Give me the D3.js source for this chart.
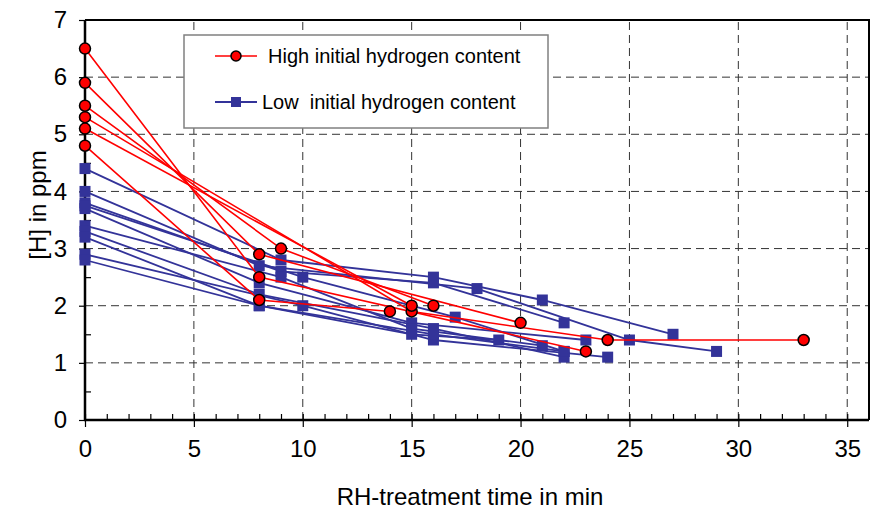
<!DOCTYPE html>
<html>
<head>
<meta charset="utf-8">
<script src="https://cdn.jsdelivr.net/npm/d3@7"></script>
<style>
  body { margin: 0; background: #fff; }
  text { font-family: "Liberation Sans", Arial, sans-serif; fill: #000; }
</style>
</head>
<body>
<script>
// each sample: [time in min, H in ppm]
const highSeries = [
  [[0, 6.5], [8, 2.5], [23, 1.2]],
  [[0, 5.9], [8, 2.9], [20, 1.7]],
  [[0, 5.5], [9, 3.0], [16, 2.0]],
  [[0, 4.8], [8, 2.1], [14, 1.9]],
  [[0, 5.3], [15, 1.9], [24, 1.4], [33, 1.4]],
  [[0, 5.1], [15, 2.0]]
]
const lowSeries = [
  [[0, 4.4], [9, 2.8], [16, 2.5], [21, 2.1], [27, 1.5]],
  [[0, 4.0], [8, 2.7], [18, 2.3], [25, 1.4], [29, 1.2]],
  [[0, 3.8], [9, 2.6], [16, 2.4], [22, 1.7]],
  [[0, 3.7], [8, 2.4], [15, 1.7], [23, 1.4]],
  [[0, 3.75], [10, 2.5], [17, 1.8], [22, 1.2]],
  [[0, 3.4], [9, 2.5], [15, 1.6], [21, 1.3]],
  [[0, 3.3], [8, 2.2], [16, 1.6], [22, 1.1]],
  [[0, 3.2], [8, 2.0], [15, 1.5], [19, 1.4]],
  [[0, 2.9], [10, 2.0], [16, 1.4], [24, 1.1]],
  [[0, 2.8], [8, 2.0], [16, 1.5], [22, 1.2]]
]
const xTicks = [0, 5, 10, 15, 20, 25, 30, 35]
const yTicks = [0, 1, 2, 3, 4, 5, 6, 7]
const legendLabels = ['High initial hydrogen content', 'Low\u00a0 initial hydrogen content']
const xTitle = 'RH-treatment time in min'
const yTitle = '[H] in ppm'

const red = '#ff0000'
const blue = '#333399'

const svg = d3.select('body').append('svg')
  .attr('width', 871)
  .attr('height', 510)

const x = d3.scaleLinear().domain([0, 36]).range([85, 869])
const y = d3.scaleLinear().domain([0, 7]).range([420, 20])

// dashed grid
svg.append('g')
  .selectAll('line')
  .data(yTicks.filter(d => d > 0 && d < 7))
  .enter().append('line')
  .attr('x1', x(0)).attr('x2', x(36))
  .attr('y1', d => y(d)).attr('y2', d => y(d))
  .style('stroke', '#333').style('stroke-width', 1)
  .style('stroke-dasharray', '8,5')

svg.append('g')
  .selectAll('line')
  .data(xTicks.filter(d => d > 0))
  .enter().append('line')
  .attr('x1', d => x(d)).attr('x2', d => x(d))
  .attr('y1', y(0)).attr('y2', y(7))
  .style('stroke', '#333').style('stroke-width', 1)
  .style('stroke-dasharray', '8,5')

// frame top / right
svg.append('path')
  .attr('d', `M${x(0)},${y(7)}H${x(36)}V${y(0)}`)
  .style('fill', 'none').style('stroke', '#000').style('stroke-width', 2)

// axes
const xAxis = svg.append('g')
  .attr('transform', `translate(0, ${y(0)})`)
  .call(d3.axisBottom(x).tickValues(d3.range(0, 36, 1)).tickSize(0).tickFormat(''))
xAxis.select('.domain').remove()
xAxis.selectAll('.tick line')
  .attr('y1', -6)
  .attr('y2', d => d % 5 === 0 ? 7 : 0)
  .style('stroke', '#000').style('stroke-width', 1.2)

svg.append('g')
  .attr('transform', `translate(0, ${y(0)})`)
  .call(d3.axisBottom(x).tickValues(xTicks).tickSize(0).tickPadding(20).tickFormat(d3.format('d')))
  .call(g => g.select('.domain').remove())
  .selectAll('text')
  .style('font-size', '24px')
  .attr('font-family', null)

const yAxis = svg.append('g')
  .attr('transform', `translate(${x(0)}, 0)`)
  .call(d3.axisLeft(y).tickValues(d3.range(0, 7.01, 0.5)).tickSize(0).tickFormat(''))
yAxis.select('.domain').remove()
yAxis.selectAll('.tick line')
  .attr('x1', d => d % 1 === 0 ? -6 : 0)
  .attr('x2', d => d % 1 === 0 ? 0 : 6)
  .style('stroke', '#000').style('stroke-width', 1.2)

svg.append('g')
  .attr('transform', `translate(${x(0)}, 0)`)
  .call(d3.axisLeft(y).tickValues(yTicks).tickSize(0).tickPadding(18).tickFormat(d3.format('d')))
  .call(g => g.select('.domain').remove())
  .selectAll('text')
  .style('font-size', '24px')
  .attr('font-family', null)

svg.append('line')
  .attr('x1', x(0)).attr('x2', x(0)).attr('y1', y(7)).attr('y2', y(0) + 1)
  .style('stroke', '#000').style('stroke-width', 2.5)
svg.append('line')
  .attr('x1', x(0) - 1).attr('x2', x(36)).attr('y1', y(0)).attr('y2', y(0))
  .style('stroke', '#000').style('stroke-width', 2.5)

// axis titles
svg.append('text')
  .attr('x', 470).attr('y', 505)
  .attr('text-anchor', 'middle')
  .style('font-size', '24px')
  .text(xTitle)

svg.append('text')
  .attr('transform', 'translate(46, 205) rotate(-90)')
  .attr('text-anchor', 'middle')
  .style('font-size', '24px')
  .text(yTitle)

const line = d3.line()
  .x(d => x(d[0]))
  .y(d => y(d[1]))

// low series
svg.append('g').selectAll('path')
  .data(lowSeries)
  .enter().append('path')
  .attr('d', line)
  .style('fill', 'none').style('stroke', blue).style('stroke-width', 1.8)

svg.append('g').selectAll('rect')
  .data(lowSeries.flat())
  .enter().append('rect')
  .attr('x', d => x(d[0]) - 5.5).attr('y', d => y(d[1]) - 5.5)
  .attr('width', 11).attr('height', 11)
  .style('fill', blue)

// high series
svg.append('g').selectAll('path')
  .data(highSeries)
  .enter().append('path')
  .attr('d', line)
  .style('fill', 'none').style('stroke', red).style('stroke-width', 1.6)

svg.append('g').selectAll('circle')
  .data(highSeries.flat())
  .enter().append('circle')
  .attr('cx', d => x(d[0])).attr('cy', d => y(d[1]))
  .attr('r', 5.5)
  .style('fill', red).style('stroke', '#000').style('stroke-width', 1.5)

// legend
const legend = svg.append('g')
legend.append('rect')
  .attr('x', 184).attr('y', 35).attr('width', 364).attr('height', 93)
  .style('fill', '#fff').style('stroke', '#808080').style('stroke-width', 1.5)

const rows = legend.selectAll('.row')
  .data(legendLabels)
  .enter().append('g')
  .attr('class', 'row')
  .attr('transform', (d, i) => `translate(0, ${56 + i * 46})`)

rows.append('line')
  .attr('x1', 215).attr('x2', 257)
  .style('stroke', (d, i) => i === 0 ? red : blue)
  .style('stroke-width', (d, i) => i === 0 ? 1.6 : 1.8)

rows.filter((d, i) => i === 0).append('circle')
  .attr('cx', 236).attr('r', 5)
  .style('fill', red).style('stroke', '#000').style('stroke-width', 1.5)

rows.filter((d, i) => i === 1).append('rect')
  .attr('x', 231).attr('y', -5).attr('width', 10).attr('height', 10)
  .style('fill', blue)

rows.append('text')
  .attr('x', (d, i) => i === 0 ? 268 : 262)
  .attr('y', 7)
  .style('font-size', '20px')
  .text(d => d)
</script>
</body>
</html>
